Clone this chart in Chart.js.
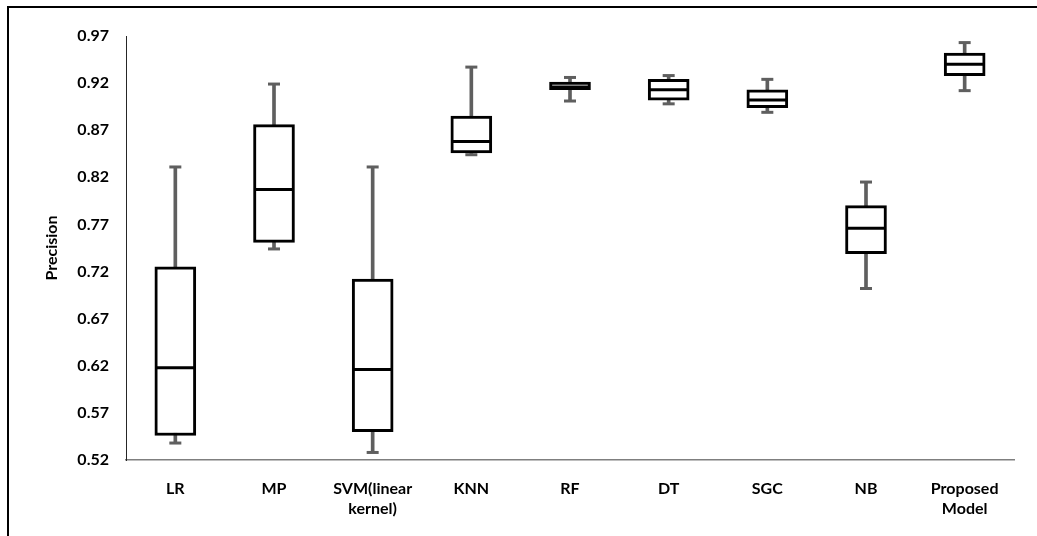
<!DOCTYPE html>
<html>
<head>
<meta charset="utf-8">
<script src="https://cdn.jsdelivr.net/npm/chart.js@4.4.1/dist/chart.umd.min.js"></script>
<style>
  body { margin: 0; background: #fff; }
  #wrap { position: relative; width: 1037px; height: 536px; }
</style>
</head>
<body>
<div id="wrap"><canvas id="canvas" width="1037" height="536"></canvas></div>
<script>
// box plot data
const categories = ['LR', 'MP', ['SVM(linear', 'kernel)'], 'KNN', 'RF', 'DT', 'SGC', 'NB', ['Proposed', 'Model']];
const mins    = [0.538, 0.744, 0.528, 0.844, 0.901, 0.898, 0.889, 0.702, 0.912];
const q1      = [0.546, 0.751, 0.550, 0.846, 0.913, 0.902, 0.894, 0.739, 0.928];
const medians = [0.618, 0.807, 0.616, 0.858, 0.916, 0.913, 0.902, 0.766, 0.940];
const q3      = [0.725, 0.876, 0.712, 0.885, 0.921, 0.924, 0.913, 0.790, 0.952];
const maxs    = [0.831, 0.919, 0.831, 0.937, 0.926, 0.928, 0.924, 0.815, 0.963];
const yTicks  = [0.52, 0.57, 0.62, 0.67, 0.72, 0.77, 0.82, 0.87, 0.92, 0.97];

const whiskerColor = '#5f5f5f';
const font = { family: 'Lato', size: 16, weight: 'bold' };

// outer frame (only left and top edges are inside the picture)
const framePlugin = {
    id: 'frame',
    beforeDraw(chart) {
        const c = chart.ctx;
        c.save();
        c.strokeStyle = '#000';
        c.lineWidth = 2;
        c.strokeRect(8, 7, 1200, 700);
        c.restore();
    }
};

const ctx = document.getElementById('canvas').getContext('2d');

const myChart = new Chart(ctx, {
    type: 'bar',
    data: {
        labels: categories,
        datasets: [
            {
                // whisker stems
                data: mins.map((m, i) => [m, maxs[i]]),
                backgroundColor: whiskerColor,
                borderWidth: 0,
                barThickness: 3,
                grouped: false,
                order: 4
            },
            {
                // whisker caps top
                type: 'line',
                data: maxs,
                showLine: false,
                pointStyle: 'line',
                pointRadius: 6,
                borderColor: whiskerColor,
                borderWidth: 3,
                order: 3
            },
            {
                // whisker caps bottom
                type: 'line',
                data: mins,
                showLine: false,
                pointStyle: 'line',
                pointRadius: 6,
                borderColor: whiskerColor,
                borderWidth: 3,
                order: 3
            },
            {
                // boxes
                data: q1.map((v, i) => [v, q3[i]]),
                backgroundColor: '#fff',
                borderColor: '#000',
                borderWidth: 3,
                borderSkipped: false,
                barThickness: 41,
                grouped: false,
                order: 2
            },
            {
                // medians
                type: 'line',
                data: medians,
                showLine: false,
                pointStyle: 'line',
                pointRadius: 20,
                borderColor: '#000',
                borderWidth: 3,
                order: 1
            }
        ]
    },
    options: {
        responsive: false,
        animation: false,
        events: [],
        layout: { padding: { left: 42, top: 36, right: 19, bottom: 0 } },
        plugins: {
            legend: { display: false },
            tooltip: { enabled: false }
        },
        scales: {
            x: {
                grid: { display: false, drawTicks: false },
                border: { color: '#7f7f7f', width: 1.5 },
                ticks: {
                    color: '#000',
                    font: { ...font, lineHeight: 1.3 },
                    padding: 18,
                    maxRotation: 0,
                    autoSkip: false
                },
                afterFit(scale) { scale.height = 76; }
            },
            y: {
                min: 0.52,
                max: 0.97,
                grid: { display: false, drawTicks: false },
                border: { color: '#262626', width: 1 },
                afterBuildTicks(scale) {
                    scale.ticks = yTicks.map(v => ({ value: v }));
                },
                ticks: {
                    color: '#000',
                    font: font,
                    padding: 17,
                    callback: v => v.toFixed(2)
                },
                title: {
                    display: true,
                    text: 'Precision',
                    color: '#000',
                    font: font,
                    padding: 0
                },
                afterFit(scale) { scale.width = 84; }
            }
        }
    },
    plugins: [framePlugin]
});
</script>
</body>
</html>
